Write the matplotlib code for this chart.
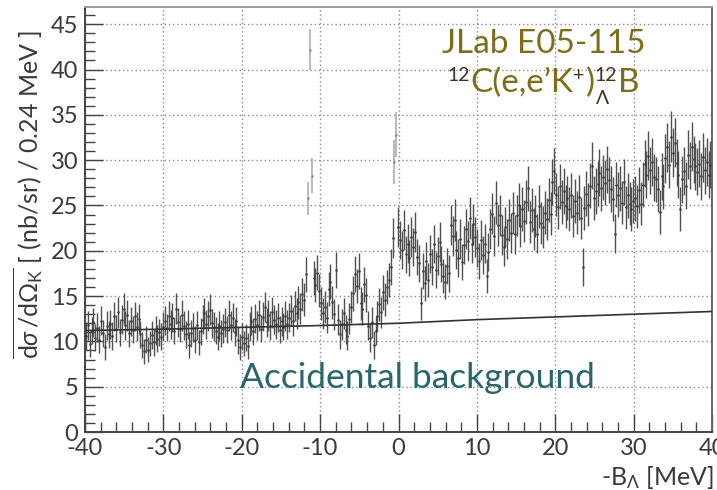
import numpy as np
import matplotlib
matplotlib.use("Agg")
import matplotlib.pyplot as plt
from matplotlib.transforms import IdentityTransform
from matplotlib.ticker import MultipleLocator

plt.rcParams["font.family"] = ["Lato", "DejaVu Sans"]
plt.rcParams["mathtext.fontset"] = "custom"
plt.rcParams["mathtext.rm"] = "Lato"
plt.rcParams["mathtext.it"] = "Lato:italic"
plt.rcParams["mathtext.bf"] = "Lato:bold"
plt.rcParams["axes.unicode_minus"] = False

# Cross section per 0.24 MeV bin, -40 .. 40 MeV, in 10 MeV blocks
BIN_WIDTH = 0.24
X_MIN = -40.0

xs_m40_m30 = [10.6, 11.8, 9.7, 11.2, 12.1, 10.4,
              11.5, 10.2, 12.3, 10.9, 9.4, 11.7, 10.8,
              11.9, 10.6,
              12.8, 11.4, 13.2, 11.0,
              12.4, 13.6, 11.8, 12.9, 10.9,
              12.2, 11.3, 12.8, 11.6, 12.5, 10.8,
              9.6, 8.9, 10.2, 9.1, 9.8,
              10.7, 9.9, 11.2, 10.3, 11.0, 10.5, 11.6]
xs_m30_m20 = [12.3, 11.5, 12.8, 11.9,
              12.6, 11.2, 13.6, 12.1, 11.4, 12.9, 11.7,
              10.8, 11.9, 9.6, 10.9, 11.5, 10.2, 11.8, 9.9, 11.1,
              12.4, 13.1, 11.9, 12.8, 13.5, 12.0, 11.6,
              11.2, 10.5, 11.7, 10.9, 11.4,
              12.1, 11.3, 12.9, 11.8, 12.6, 11.0, 12.2,
              10.1, 9.4, 10.5]
xs_m20_m10 = [9.8, 10.4, 9.5,
              11.6, 12.3, 11.1, 12.5, 11.8, 12.9, 11.4,
              12.7, 13.8, 12.1, 12.9, 11.7, 13.2, 12.4,
              11.9, 12.6, 11.3, 12.2, 11.6, 12.8, 11.9,
              12.6, 13.4, 12.2, 13.9, 13.1, 14.3, 13.6,
              15.2, 14.6,
              17.4,
              25.8, 42.2, 28.3,
              17.0, 16.2, 17.6, 15.6]
xs_m10_0 = [14.2, 13.1, 13.8, 12.6, 15.8, 16.6,
            14.3, 13.0, 17.9,
            12.4, 10.8, 11.9, 13.1, 11.3, 10.6,
            12.5, 13.8,
            15.3, 17.4, 16.1, 17.8,
            14.2, 13.6,
            16.3, 15.1,
            11.7, 10.4, 12.1, 9.6, 11.2,
            12.8, 14.1, 13.2, 15.4, 14.6, 16.0,
            16.8, 18.2,
            21.4, 29.8, 32.8, 22.6]
xs_0_10 = [21.2, 20.1, 22.3, 19.6, 20.8, 19.2, 21.5,
           20.4, 22.1, 19.3, 18.6,
           14.2, 17.8, 16.4, 18.9, 16.8,
           19.6, 18.2, 20.7, 17.9, 19.4, 21.0, 18.5,
           17.2, 16.6, 18.3, 17.5,
           22.8, 21.6, 23.4,
           20.1, 19.2, 21.3, 18.8, 20.6,
           22.4, 21.1, 23.6, 20.8, 22.9, 21.5]
xs_10_20 = [20.3, 18.9, 21.2, 19.5, 20.8, 17.2, 19.9,
            22.4, 24.1, 21.6, 25.3, 22.8, 23.9, 21.7,
            20.4, 22.6, 21.3, 23.4, 22.0, 24.2, 21.8,
            23.9, 25.1, 22.7, 24.6, 23.3, 25.4, 26.9,
            23.2, 24.5, 22.4, 23.8, 21.9, 24.9, 23.1, 22.6, 24.2, 23.5, 25.6, 24.1,
            27.6, 28.8]
xs_20_30 = [26.2, 24.8, 27.1, 25.4, 26.6, 24.9, 25.8,
            24.6, 26.1, 23.8, 25.5, 24.2, 25.9, 23.6,
            18.2, 24.7, 26.3, 25.1, 27.2, 29.4, 25.8, 26.6,
            27.4, 28.6, 26.9, 28.1, 27.5, 29.0, 27.8,
            26.8, 25.7, 21.9, 27.3, 26.2,
            26.9, 25.3, 27.6, 24.8, 26.1, 25.2, 24.6, 25.5]
xs_30_40 = [25.8, 24.9, 26.7, 25.2, 27.3,
            29.6, 28.4, 30.5, 28.9, 29.8, 28.1,
            27.9, 26.8, 24.3, 28.2, 27.1,
            30.2, 31.4, 29.5, 32.6, 30.8, 31.9, 29.7,
            28.4, 24.6, 27.9, 28.8, 27.2,
            30.6, 29.4, 31.5, 30.1, 29.3,
            28.7, 29.6, 28.2, 30.3, 28.9, 29.8, 28.4, 29.5]

# Statistical uncertainties, same binning
err_m40_m30 = [1.5, 1.6, 1.4, 1.5, 1.6, 1.5, 1.6, 1.5, 1.6, 1.5, 1.4, 1.6, 1.5,
               1.6, 1.5, 1.6, 1.5, 1.7, 1.5, 1.6, 1.7, 1.6, 1.7, 1.5,
               1.6, 1.5, 1.6, 1.6, 1.6, 1.5, 1.4, 1.4, 1.5, 1.4, 1.4,
               1.5, 1.5, 1.6, 1.5, 1.5, 1.5, 1.6]
err_m30_m20 = [1.6, 1.5, 1.7, 1.6, 1.6, 1.5, 1.7, 1.6, 1.5, 1.7, 1.6,
               1.5, 1.6, 1.4, 1.5, 1.6, 1.5, 1.6, 1.4, 1.5,
               1.6, 1.7, 1.6, 1.7, 1.7, 1.6, 1.6, 1.5, 1.5, 1.6, 1.5, 1.6,
               1.6, 1.5, 1.7, 1.6, 1.6, 1.5, 1.6, 1.5, 1.4, 1.5]
err_m20_m10 = [1.4, 1.5, 1.4, 1.6, 1.6, 1.5, 1.6, 1.6, 1.7, 1.5,
               1.6, 1.7, 1.6, 1.7, 1.6, 1.7, 1.6, 1.6, 1.6, 1.5, 1.6, 1.5, 1.7, 1.6,
               1.6, 1.7, 1.6, 1.7, 1.7, 1.8, 1.7, 1.8, 1.8, 1.9,
               1.8, 2.3, 1.9, 1.9, 1.9, 1.9, 1.8]
err_m10_0 = [1.8, 1.7, 1.8, 1.7, 1.9, 1.9, 1.8, 1.7, 2.0,
             1.7, 1.6, 1.7, 1.7, 1.6, 1.6, 1.7, 1.8,
             1.9, 2.0, 1.9, 2.0, 1.8, 1.8, 1.9, 1.9,
             1.6, 1.6, 1.7, 1.5, 1.6, 1.7, 1.8, 1.7, 1.9, 1.8, 1.9,
             1.9, 2.0, 2.2, 2.4, 2.5, 2.2]
err_0_10 = [2.1, 2.1, 2.2, 2.0, 2.1, 2.0, 2.2, 2.1, 2.2, 2.0, 2.0,
            1.8, 2.0, 1.9, 2.1, 1.9, 2.1, 2.0, 2.1, 2.0, 2.1, 2.2, 2.0,
            1.9, 1.9, 2.0, 2.0, 2.2, 2.2, 2.3,
            2.1, 2.1, 2.2, 2.0, 2.1, 2.2, 2.2, 2.3, 2.1, 2.3, 2.2]
err_10_20 = [2.1, 2.0, 2.2, 2.1, 2.1, 1.9, 2.1, 2.2, 2.3, 2.2, 2.4, 2.3, 2.3, 2.2,
             2.1, 2.2, 2.2, 2.3, 2.2, 2.3, 2.2, 2.3, 2.4, 2.3, 2.4, 2.3, 2.4, 2.5,
             2.3, 2.4, 2.3, 2.3, 2.2, 2.4, 2.3, 2.3, 2.4, 2.3, 2.4, 2.4, 2.5, 2.5]
err_20_30 = [2.4, 2.4, 2.5, 2.4, 2.5, 2.4, 2.4, 2.4, 2.5, 2.3, 2.4, 2.4, 2.5, 2.3,
             2.1, 2.4, 2.5, 2.4, 2.5, 2.6, 2.4, 2.5, 2.5, 2.6, 2.5, 2.5, 2.5, 2.6, 2.5,
             2.5, 2.4, 2.2, 2.5, 2.5, 2.5, 2.4, 2.5, 2.4, 2.5, 2.4, 2.4, 2.4]
err_30_40 = [2.5, 2.4, 2.5, 2.4, 2.5, 2.6, 2.6, 2.7, 2.6, 2.6, 2.6,
             2.5, 2.5, 2.4, 2.6, 2.5, 2.7, 2.7, 2.6, 2.8, 2.7, 2.7, 2.6,
             2.6, 2.4, 2.6, 2.6, 2.6, 2.7, 2.6, 2.7, 2.6, 2.6,
             2.6, 2.6, 2.6, 2.7, 2.6, 2.6, 2.6, 2.6]

# Accidental coincidence background estimate
bg_x = [-40, -30, -20, -10, 0, 10, 20, 30, 40]
bg_y = [11.2, 11.35, 11.55, 11.75, 12.0, 12.4, 12.7, 13.0, 13.3]

# Bins belonging to the 12_Lambda B ground-state and the 0 MeV structure
peak_bins = [118, 119, 120, 164, 165]

xs = np.concatenate([xs_m40_m30, xs_m30_m20, xs_m20_m10, xs_m10_0,
                     xs_0_10, xs_10_20, xs_20_30, xs_30_40])
err = np.concatenate([err_m40_m30, err_m30_m20, err_m20_m10, err_m10_0,
                      err_0_10, err_10_20, err_20_30, err_30_40])
centers = X_MIN + BIN_WIDTH * (np.arange(len(xs)) + 0.5)

W, H = 717, 490
fig = plt.figure(figsize=(W / 100, H / 100), dpi=100)
ax = fig.add_axes([85 / W, 1 - 432 / H, 627 / W, 425 / H])

dark = "#505050"
light = "#a8a8a8"
is_peak = np.zeros(len(xs), dtype=bool)
is_peak[peak_bins] = True

ax.errorbar(centers[~is_peak], xs[~is_peak], yerr=err[~is_peak], fmt=".",
            ms=1.6, color="#383838", ecolor=dark, elinewidth=1.0, capsize=0,
            zorder=3)
ax.errorbar(centers[is_peak], xs[is_peak], yerr=err[is_peak], fmt=".",
            ms=1.6, color="#8a8a8a", ecolor=light, elinewidth=1.1, capsize=0, zorder=3)
ax.plot(bg_x, bg_y, color="#333333", lw=1.2, zorder=4)

ax.set_xlim(-40, 40)
ax.set_ylim(0, 46.9)
ax.xaxis.set_major_locator(MultipleLocator(10))
ax.xaxis.set_minor_locator(MultipleLocator(2))
ax.yaxis.set_major_locator(MultipleLocator(5))
ax.yaxis.set_minor_locator(MultipleLocator(1))
ax.tick_params(which="both", direction="in", top=False, right=False,
               colors="#444444", labelcolor="#3a3a3a", width=1.0)
ax.tick_params(which="major", length=13, labelsize=17)
ax.tick_params(which="minor", length=7)
ax.tick_params(axis="x", pad=4)
ax.tick_params(axis="y", pad=5)
ax.grid(True, which="major", color="#8c8c8c", lw=1.0, ls=(0, (1, 2)), zorder=1)

for side, col in (("left", "#444444"), ("bottom", "#444444"),
                  ("top", "#9a9a9a"), ("right", "#666666")):
    ax.spines[side].set_color(col)
    ax.spines[side].set_linewidth(1.4)

# Axis titles
fig.text(28 / W, 1 - 194 / H,
         r"$\overline{\mathrm{d}\sigma\,/\mathrm{d}\Omega_{\mathrm{K}}}$ [ (nb/sr) / 0.24 MeV ]",
         rotation=90, ha="center", va="center", fontsize=18, color="#3a3a3a")
fig.text(714, H - 485, r"-B$_{\Lambda}$ [MeV]", transform=IdentityTransform(),
         ha="right", va="baseline", fontsize=18, color="#3a3a3a")

olive = "#7f6d1c"
deep = "#3d3520"
teal = "#27666a"

fig.text(544, H - 53, "JLab E05-115", transform=IdentityTransform(),
         ha="center", va="baseline", fontsize=24, color=olive)

# Reaction label built from pieces so the isotope indices keep their own colour
renderer = fig.canvas.get_renderer()
base_y = H - 92
x_cur = 447.0
pieces = [("12", 14, deep, 11), ("C(e,e\u2019K", 24, olive, 0), ("+", 14, deep, 11),
          (")", 24, olive, 0), ("12", 14, deep, 11), ("B", 24, olive, 0)]
for txt, size, col, dy in pieces:
    t = fig.text(x_cur, base_y + dy, txt, transform=IdentityTransform(),
                 ha="left", va="baseline", fontsize=size, color=col)
    bb = t.get_window_extent(renderer)
    if txt == "12" and x_cur > 500:
        fig.text(x_cur + 1, base_y - 12, "\u039b", transform=IdentityTransform(),
                 ha="left", va="baseline", fontsize=14, color=deep)
    x_cur = bb.x1 + (1 if size < 20 else 0)

ax.text(0.531, 0.1035, "Accidental background", transform=ax.transAxes,
        ha="center", va="baseline", fontsize=25.5, color=teal)

fig.savefig("out.png", dpi=100)
